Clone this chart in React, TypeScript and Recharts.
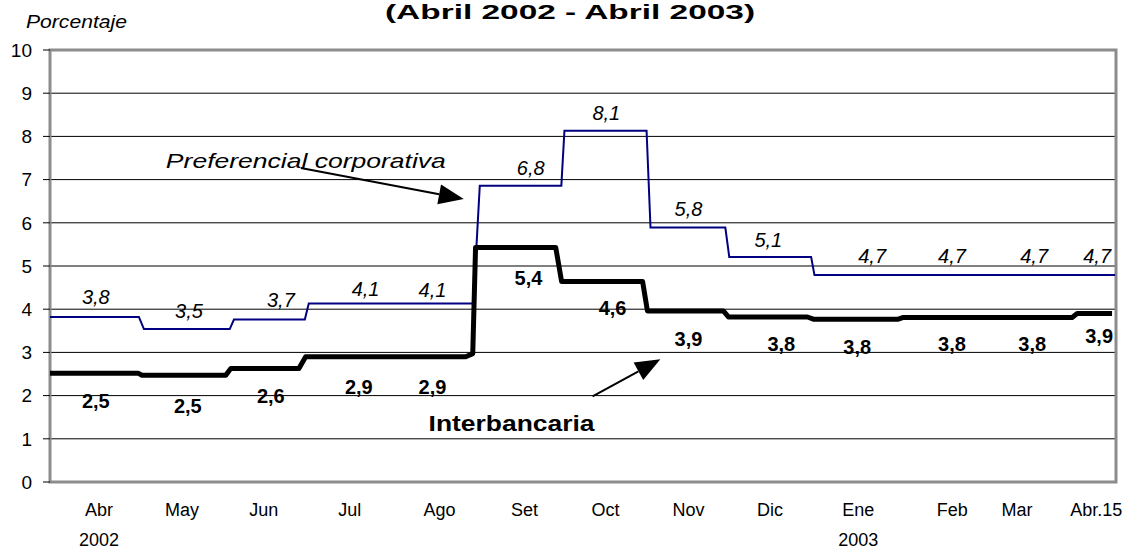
import React from 'react';
import { LineChart, Line, XAxis, YAxis, CartesianGrid, ReferenceArea, ReferenceDot, ReferenceLine } from 'recharts';

// x = days since 1 Apr 2002, values in percent
const interbankDays = [0, 31.3, 32.7, 62.5, 64.3, 88.5, 90.9, 147.8, 150.3, 151.3, 179.8, 181.9, 210.7, 212.4, 239.4, 241.2, 269.3, 271.4, 301.6, 303.4, 363.4, 365.2, 377.6];
const interbankRates = [2.52, 2.52, 2.47, 2.47, 2.63, 2.63, 2.9, 2.9, 2.97, 5.43, 5.43, 4.64, 4.64, 3.96, 3.96, 3.82, 3.82, 3.77, 3.77, 3.81, 3.81, 3.9, 3.9];

const corpDays = [0, 31.6, 33.4, 63.9, 65.4, 90.6, 92.0, 150.5, 152.8, 181.8, 182.9, 212.1, 213.5, 240.1, 241.5, 270.6, 271.8, 378.7];
const corpRates = [3.82, 3.82, 3.54, 3.54, 3.76, 3.76, 4.13, 4.13, 6.86, 6.86, 8.13, 8.13, 5.89, 5.89, 5.21, 5.21, 4.79, 4.79];

// value labels (text, day, level where the text sits)
const corpLabelText = ['3,8', '3,5', '3,7', '4,1', '4,1', '6,8', '8,1', '5,8', '5,1', '4,7', '4,7', '4,7', '4,7'];
const corpLabelDays = [16.3, 49.4, 82.1, 112.2, 136.0, 170.9, 197.8, 227.0, 255.4, 292.3, 320.7, 349.9, 372.3];
const corpLabelLevels = [4.28, 3.95, 4.21, 4.46, 4.44, 7.27, 8.54, 6.32, 5.6, 5.23, 5.23, 5.23, 5.23];

const interLabelText = ['2,5', '2,5', '2,6', '2,9', '2,9', '5,4', '4,6', '3,9', '3,8', '3,8', '3,8', '3,8', '3,9'];
const interLabelDays = [16.3, 49.0, 78.5, 109.8, 136.0, 170.1, 200.0, 227.0, 260.0, 287.0, 320.7, 349.2, 373.0];
const interLabelLevels = [1.87, 1.77, 1.98, 2.21, 2.21, 4.72, 4.02, 3.3, 3.19, 3.12, 3.19, 3.19, 3.37];

const monthTicks = [17.4, 46.9, 76, 106.6, 138.5, 168.7, 197.5, 227, 256, 287.4, 320.8, 343.8, 372];
const monthLabels = ['Abr', 'May', 'Jun', 'Jul', 'Ago', 'Set', 'Oct', 'Nov', 'Dic', 'Ene', 'Feb', 'Mar', 'Abr.15'];
const yearLabels = ['2002', '', '', '', '', '', '', '', '', '2003', '', '', ''];

const yTicks = [0, 1, 2, 3, 4, 5, 6, 7, 8, 9, 10];

const FONT = '"Liberation Sans", Arial, sans-serif';

const interData = interbankDays.map((d, i) => ({ day: d, rate: interbankRates[i] }));
const corpData = corpDays.map((d, i) => ({ day: d, rate: corpRates[i] }));

const MonthTick = (props: any) => {
  const { x, y, payload } = props;
  const i = monthTicks.indexOf(payload.value);
  return (
    <g>
      <text x={x} y={y + 26} textAnchor="middle" fontSize={18} fontFamily={FONT} fill="#000">
        {monthLabels[i]}
      </text>
      {yearLabels[i] && (
        <text x={x} y={y + 56} textAnchor="middle" fontSize={18} fontFamily={FONT} fill="#000">
          {yearLabels[i]}
        </text>
      )}
    </g>
  );
};

const Arrow = (p: any) => {
  const { x1, y1, x2, y2 } = p;
  const ang = Math.atan2(y2 - y1, x2 - x1);
  const L = 25;
  const W = 10;
  const bx = x2 - L * Math.cos(ang);
  const by = y2 - L * Math.sin(ang);
  const px = -Math.sin(ang) * W;
  const py = Math.cos(ang) * W;
  return (
    <g>
      <line x1={x1} y1={y1} x2={bx} y2={by} stroke="#000" strokeWidth={2} />
      <polygon points={`${x2},${y2} ${bx + px},${by + py} ${bx - px},${by - py}`} fill="#000" />
    </g>
  );
};

const label = (text: string, italic: boolean) => (p: any) => (
  <text
    x={p.cx}
    y={p.cy}
    textAnchor="middle"
    dominantBaseline="central"
    fontSize={20}
    fontFamily={FONT}
    fontStyle={italic ? 'italic' : 'normal'}
    fontWeight={italic ? 'normal' : 'bold'}
    fill="#000"
  >
    {text}
  </text>
);

export default function App() {
  return (
    <div style={{ position: 'absolute', left: 0, top: 0, width: 1138, height: 552, background: '#fff', fontFamily: FONT }}>
      <svg width={1138} height={552} style={{ position: 'absolute', left: 0, top: 0 }}>
        <text x={570} y={19} textAnchor="middle" fontSize={20} fontWeight="bold" fontFamily={FONT} textLength={370} lengthAdjust="spacingAndGlyphs">
          (Abril 2002 - Abril 2003)
        </text>
        <text x={26} y={28} fontSize={18} fontStyle="italic" fontFamily={FONT} textLength={101} lengthAdjust="spacingAndGlyphs">
          Porcentaje
        </text>
      </svg>
      <div style={{ position: 'absolute', left: 0, top: 0 }}>
        <LineChart width={1138} height={552} margin={{ top: 50, right: 22, bottom: 0, left: 1 }}>
          <CartesianGrid vertical={false} stroke="#000" strokeWidth={1} />
          <XAxis
            dataKey="day"
            type="number"
            domain={[0, 379]}
            ticks={monthTicks}
            tick={<MonthTick />}
            tickLine={false}
            axisLine={false}
            height={70}
            interval={0}
          />
          <YAxis
            type="number"
            domain={[0, 10]}
            ticks={yTicks}
            width={49}
            axisLine={false}
            tickLine={{ stroke: '#000' }}
            tickSize={7}
            tickMargin={11}
            tick={{ fontSize: 19, fill: '#000', fontFamily: FONT }}
            interval={0}
          />
          <ReferenceArea x1={0} x2={379} y1={0} y2={10} fill="none" stroke="#8c8c8c" strokeWidth={3} ifOverflow="visible" />
          <Line data={corpData} dataKey="rate" type="linear" stroke="#000080" strokeWidth={2} dot={false} activeDot={false} isAnimationActive={false} />
          <Line data={interData} dataKey="rate" type="linear" stroke="#000" strokeWidth={5} strokeLinejoin="round" dot={false} activeDot={false} isAnimationActive={false} />
          {corpLabelText.map((t, i) => (
            <ReferenceDot key={'c' + i} x={corpLabelDays[i]} y={corpLabelLevels[i]} r={0} shape={label(t, true)} />
          ))}
          {interLabelText.map((t, i) => (
            <ReferenceDot key={'i' + i} x={interLabelDays[i]} y={interLabelLevels[i]} r={0} shape={label(t, false)} />
          ))}
          <ReferenceLine segment={[{ x: 89.2, y: 7.27 }, { x: 147.1, y: 6.55 }]} shape={Arrow} />
          <ReferenceLine segment={[{ x: 192.9, y: 1.98 }, { x: 217.0, y: 2.84 }]} shape={Arrow} />
          <ReferenceDot
            x={41.2}
            y={7.45}
            r={0}
            shape={(p: any) => (
              <text x={p.cx} y={p.cy} dominantBaseline="central" fontSize={21} fontStyle="italic" fontFamily={FONT} textLength={280} lengthAdjust="spacingAndGlyphs">
                Preferencial corporativa
              </text>
            )}
          />
          <ReferenceDot
            x={134.6}
            y={1.36}
            r={0}
            shape={(p: any) => (
              <text x={p.cx} y={p.cy} dominantBaseline="central" fontSize={22} fontWeight="bold" fontFamily={FONT} textLength={166} lengthAdjust="spacingAndGlyphs">
                Interbancaria
              </text>
            )}
          />
        </LineChart>
      </div>
    </div>
  );
}
